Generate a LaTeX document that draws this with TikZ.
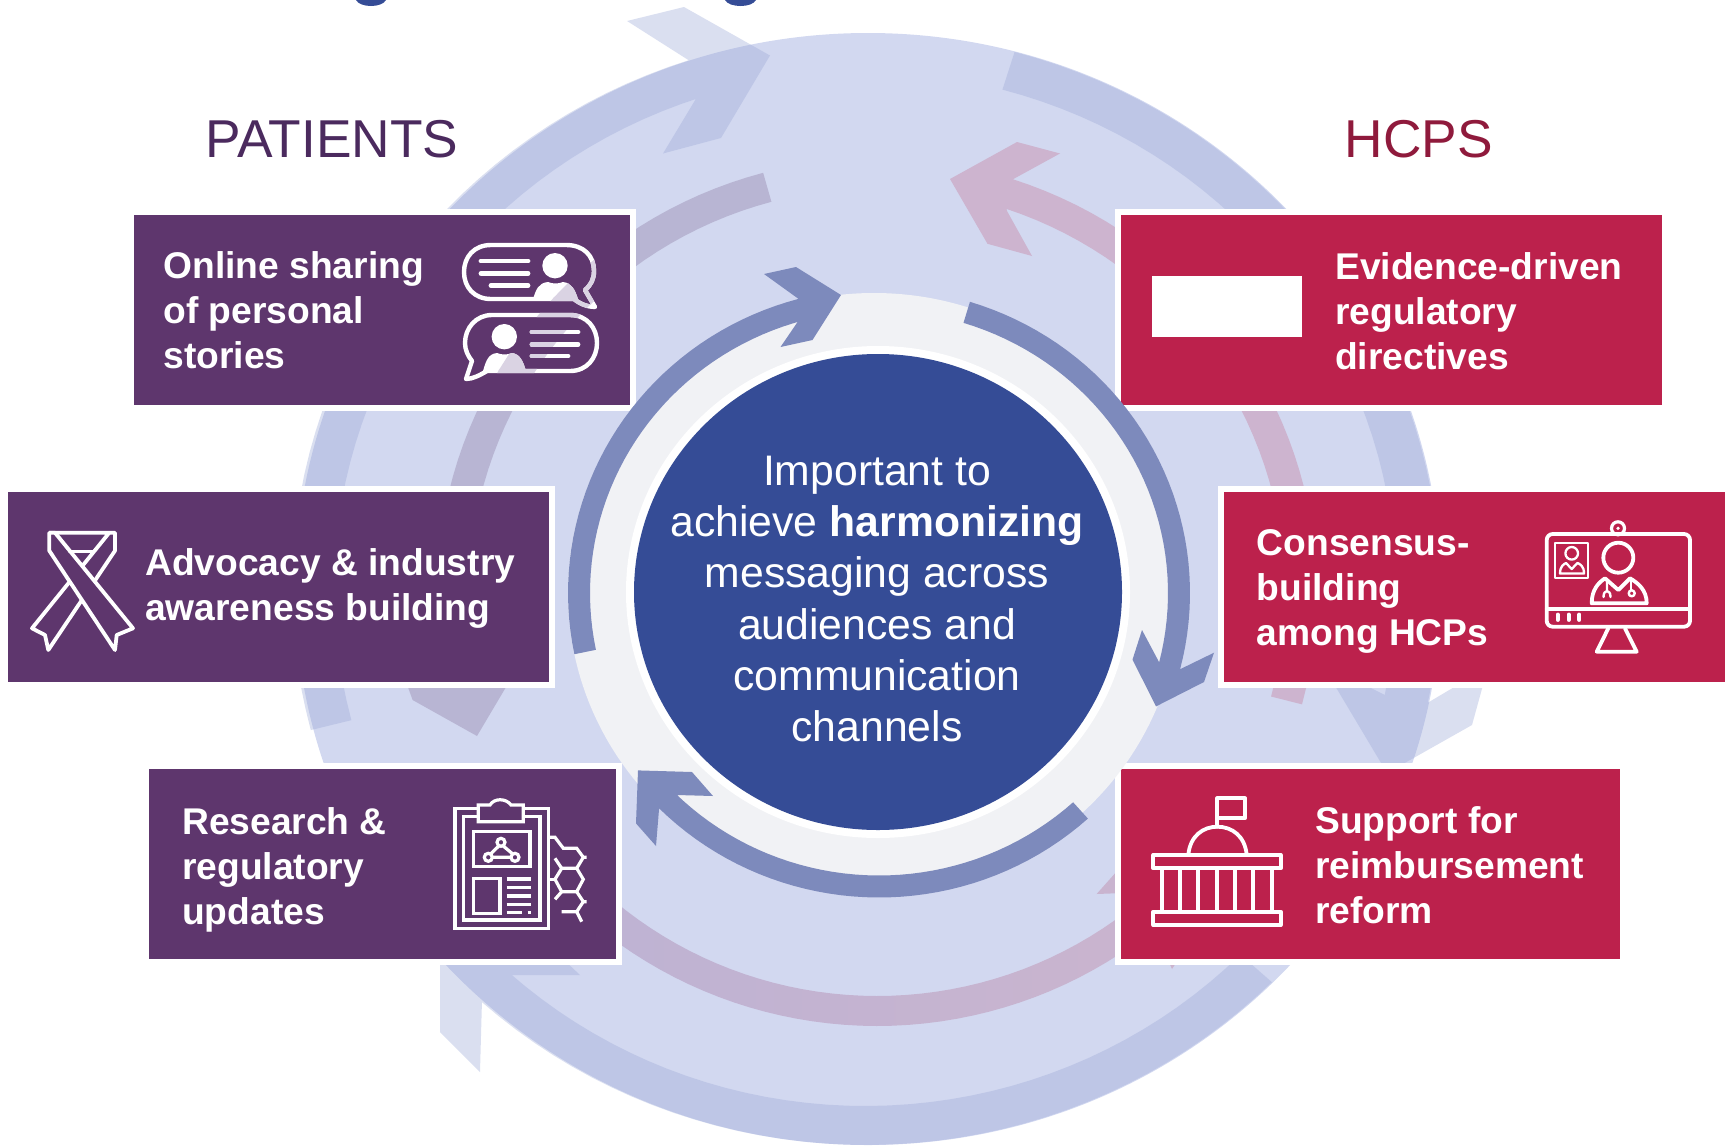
\documentclass[tikz,border=0pt]{standalone}
\usepackage{fontspec}
\setmainfont{Liberation Sans}
\definecolor{circ}{HTML}{D2D8F0}
\definecolor{bandc}{HTML}{9EABD8}
\definecolor{purbox}{HTML}{5E366D}
\definecolor{redbox}{HTML}{BC214C}
\definecolor{discb}{HTML}{354C96}
\definecolor{inarrow}{HTML}{7D8ABC}
\definecolor{anul}{HTML}{F1F2F5}
\definecolor{midpur}{HTML}{B8B5D3}
\definecolor{midpink}{HTML}{CDB4CF}
\definecolor{midpurb}{HTML}{BEB3D3}
\definecolor{midpinkb}{HTML}{CBB4CE}
\definecolor{headp}{HTML}{4B2A5E}
\definecolor{headr}{HTML}{8F1A3C}
\definecolor{ghost}{HTML}{DAD3E3}
\newcommand\ringarc[6]{plot[domain=#5:#6,samples=40,variable=\t]({#1+#3*cos(\t)},{#2-#4*sin(\t)})}
\newcommand\ringto[6]{-- plot[domain=#5:#6,samples=40,variable=\t]({#1+#3*cos(\t)},{#2-#4*sin(\t)})}
\newcommand\OO[2]{\ringarc{866}{589}{574}{556}{#1}{#2}}
\newcommand\OI[2]{\ringto{865}{589}{531}{517}{#1}{#2}}
\newcommand\MO[2]{\ringarc{877}{592}{440}{434}{#1}{#2}}
\newcommand\MI[2]{\ringto{877}{592}{408}{404}{#1}{#2}}
\newcommand\IO[2]{\ringarc{879}{593}{311}{304.5}{#1}{#2}}
\newcommand\II[2]{\ringto{879}{593}{289}{282.5}{#1}{#2}}
\newcommand\chaticon[1]{%
 \draw[#1,line width=4.4,line join=round,line cap=round] (491,245) -- (566,245) .. controls (584,245) and (594,256) .. (594,271) .. controls (594,279) and (591,285) .. (585,290) -- (595,307) .. controls (588,307) and (580,304) .. (574,299) -- (491,299) .. controls (474,299) and (464,287) .. (464,272) .. controls (464,257) and (474,245) .. (491,245) -- cycle;
 \draw[#1,line width=4.4,line join=round,line cap=round] (492,315) -- (570,315) .. controls (587,315) and (597,328) .. (597,343) .. controls (597,358) and (587,371) .. (570,371) -- (487,371) .. controls (480,375) and (473,379) .. (466,379) -- (472,361) .. controls (468,356) and (465,350) .. (465,343) .. controls (465,328) and (476,315) .. (492,315) -- cycle;
 \draw[#1,line width=4.8,line cap=round] (481,261) -- (528,261) (481,273.3) -- (528,273.3) (491,285.7) -- (528,285.7);
 \draw[#1,line width=4.8,line cap=round] (532,332) -- (578,332) (532,344.3) -- (578,344.3) (532,356) -- (568,356);
 \fill[#1] (555,265.7) circle [radius=12.7];
 \fill[#1] (533,299) .. controls (536,290) and (538,283) .. (548,282) .. controls (553,284) and (558,284) .. (563,282) .. controls (572,283) and (575,290) .. (578,299) -- cycle;
 \fill[#1] (504.3,336.7) circle [radius=12.7];
 \fill[#1] (483,371) .. controls (486,361) and (488,354) .. (497,353) .. controls (502,355) and (507,355) .. (512,353) .. controls (520,354) and (523,361) .. (526,371) -- cycle;
}
\tikzset{
  outerarrow/.style={fill=bandc,fill opacity=.38},
  innerarrow/.style={fill=inarrow},
  card/.style={rectangle,draw=white,line width=6,inner sep=0,outer sep=0,anchor=north west},
  cardtext/.style={text=white,anchor=west,align=left,inner sep=0,font=\fontsize{37.2}{45}\selectfont\bfseries},
  heading/.style={anchor=base,inner sep=0,font=\fontsize{53.3}{60}\selectfont},
  ico/.style={draw=white,line join=round,line cap=round,line width=3.6},
}
\begin{document}
\begin{tikzpicture}[x=1pt,y=-1pt]
\useasboundingbox (0,0) rectangle (1729,1146);
\clip (0,0) rectangle (1729,1146);
% title remnants
\fill[discb] (356,0) .. controls (360,8) and (382,8) .. (386,0) -- cycle;
\fill[discb] (725,0) .. controls (729,8) and (752,8) .. (756,0) -- cycle;
% big disc
\fill[circ] (868,589) ellipse [x radius=573,y radius=556];
% outer arrows
\fill[outerarrow] \OO{194.7}{108} -- (627,21) -- (684,7) -- (770,55.5) -- (721,138) -- (663,153.5) -- (697,97) \OI{108}{194.7} -- cycle;
\fill[outerarrow] \OO{75}{-11.8} -- (1488,667) -- (1472,725) -- (1387,773) -- (1322,664) -- (1385,695) \OI{-11.8}{75} -- cycle;
\fill[outerarrow] \OO{-45}{-132} -- (480,1072) -- (440,1032) -- (440,843) -- (580,975) -- (512,975) \OI{-132}{-45} -- cycle;
% middle arrows
\fill[midpur] \MO{105}{191} -- (400,665) -- (412.6,700) -- (477,736) -- (525,655) \MI{191}{105} -- cycle;
\fill[midpink] \MO{-15}{72} -- (1060,153.5) -- (1017,142) -- (950,179) -- (987.5,243.8) -- (1032,256) -- (1007,211) \MI{71.5}{-15} -- cycle;
\shade[left color=midpurb,right color=midpinkb] \MO{-130}{-48} -- (1168,960) -- (1172,969) -- (1178,960) -- (1192,787) -- (1096.6,894) -- (1150,892) \MI{-48}{-130} -- cycle;
% cards
\node[card,fill=purbox,minimum width=502,minimum height=196] (c1) at (130.5,212) {};
\node[card,fill=purbox,minimum width=547,minimum height=196] (c2) at (5,489) {};
\node[card,fill=purbox,minimum width=473,minimum height=196] (c3) at (146,766) {};
\node[card,fill=redbox,minimum width=547,minimum height=196] (c4) at (1117.5,212) {};
\node[card,fill=redbox,minimum width=507,minimum height=196] (c5) at (1220.6,489) {};
\node[card,fill=redbox,minimum width=505,minimum height=196] (c6) at (1117.5,766) {};
\node[heading,text=headp] (hp) at (332,157.5) {PATIENTS};
\node[heading,text=headr] (hh) at (1419,157.5) {HCPS};
\node[cardtext] (t1) at (163.3,310) {Online sharing\\of personal\\stories};
\node[cardtext] (t2) at (145,588.2) {Advocacy \& industry\\awareness building};
\node[cardtext] (t3) at (182,869.5) {Research \&\\regulatory\\updates};
\node[cardtext] (t4) at (1335,311) {Evidence-driven\\regulatory\\directives};
\node[cardtext] (t5) at (1256.6,591) {Consensus-\\building\\among HCPs};
\node[cardtext] (t6) at (1315,865) {Support for\\reimbursement\\reform};
\fill[white] (1152,276) rectangle (1302,336.6);
% chat icon
\chaticon{white}
\begin{scope}
\clip \MO{105}{191} \MI{191}{105} -- cycle;
\chaticon{ghost}
\end{scope}
% ribbon icon
\draw[ico,line width=3.8,line cap=butt,line join=round] (109,533) -- (32,628.3) -- (45,635) -- (48.3,650) -- (115,550.7) -- (115,532.7) -- (49.3,532.7);
\draw[ico,line width=3.8,line cap=butt,line join=round,fill=purbox] (49.3,532.7) -- (55,532.7) -- (133,628.3) -- (116.7,635) -- (115,650) -- (49.3,550.7) -- cycle;
\draw[ico,line width=3.8] (70,551.5) -- (93,551.5);
% clipboard icon
\begin{scope}[ico,line width=3.2,line cap=butt,line join=miter]
\draw (478.3,808.3) -- (455,808.3) -- (455,928.3) -- (548.3,928.3) -- (548.3,808.3) -- (523.3,808.3);
\draw (478.3,816.7) -- (463.3,816.7) -- (463.3,920) -- (540,920) -- (540,816.7) -- (523.3,816.7);
\draw (478.3,821.7) -- (478.3,805) -- (490,805) .. controls (494,798) and (506,798) .. (511,805) -- (523.3,805) -- (523.3,821.7) -- cycle;
\draw (473.3,831.7) rectangle (530,866.7);
\draw (473.3,878.3) rectangle (500,913.3);
\draw (506.7,879) -- (530.7,879) (506.7,887.7) -- (530.7,887.7) (506.7,896) -- (530.7,896) (506.7,904.3) -- (530.7,904.3) (506.7,912.7) -- (521.7,912.7) (527.5,912.7) -- (531,912.7);
\draw (501,842.3) circle [radius=4] (488.3,857.3) circle [radius=4] (515,857.3) circle [radius=4];
\draw (499,845.8) -- (490.5,854) (503,845.8) -- (512.8,854) (492.3,857.3) -- (511,857.3);
\draw (548.3,837.3) -- (555,837.3) -- (563.3,848.3) -- (576.7,848.3) -- (583.3,857.3) -- (586.7,857.3);
\draw (583.3,857.3) -- (576.7,868.3) -- (561.7,868.3) -- (555,858.3);
\draw (561.7,868.3) -- (555,879.3) -- (561.7,891.7) -- (576.7,891.7) -- (583.3,879.3) -- (576.7,868.3);
\draw (548.3,879.3) -- (555,879.3);
\draw (561.7,891.7) -- (555,899.3);
\draw (576.7,891.7) -- (583.3,901.7) -- (586.7,901.7);
\draw (583.3,901.7) -- (576.7,911.7) -- (561.7,911.7);
\draw (576.7,911.7) -- (581.7,921.7);
\end{scope}
% doctor monitor icon
\begin{scope}[ico,line width=3.8]
\draw[rounded corners=6] (1546.7,534) rectangle (1690,626.7);
\draw (1546.7,609.3) -- (1690,609.3);
\draw (1557.7,614.5) -- (1557.7,620) (1568.7,614.5) -- (1568.7,620) (1579.3,614.5) -- (1579.3,620);
\draw (1608.3,628.3) -- (1596.7,651.7) -- (1636.7,651.7) -- (1625,628.3);
\draw[line width=3.2] (1618,528.3) circle [radius=6.5];
\fill[white] (1618,528.3) circle [radius=1.8];
\draw[line width=2] (1555,543.3) rectangle (1588.3,577.7);
\draw[line width=2.3] (1571.7,553.3) circle [radius=6.3];
\draw[line width=2.3] (1560,573.5) .. controls (1560,566) and (1564,564) .. (1566,563) -- (1571.7,569) -- (1577.4,563) .. controls (1580,564) and (1584,566) .. (1584,573.5) -- cycle;
\draw (1618.3,557.7) circle [radius=15];
\draw (1591.7,603.3) .. controls (1591.7,590) and (1598,583) .. (1605,578.3) -- (1618.3,590) -- (1630,578.3) .. controls (1638,583) and (1646.7,590) .. (1646.7,603.3) -- cycle;
\draw[line width=2.4] (1607,581) -- (1607,590) (1603.5,597) .. controls (1603.5,589) and (1610.5,589) .. (1610.5,597);
\draw[line width=2.4] (1631,581) -- (1631,590);
\draw[line width=2.4] (1631.7,593.3) circle [radius=3];
\end{scope}
% capitol icon
\begin{scope}[ico,line width=3.8]
\draw (1153.3,855) rectangle (1280.7,868.3);
\draw (1153.3,911.7) rectangle (1280.7,925);
\draw (1161.7,868.3) -- (1161.7,911.7) (1180,868.3) -- (1180,911.7) (1198.3,868.3) -- (1198.3,911.7) (1216.7,868.3) -- (1216.7,911.7) (1235,868.3) -- (1235,911.7) (1253.3,868.3) -- (1253.3,911.7) (1271.7,868.3) -- (1271.7,911.7);
\draw (1188.3,855) .. controls (1190,836) and (1203,826.7) .. (1217.3,826.7) .. controls (1232,826.7) and (1245,836) .. (1246.7,855);
\draw (1217.3,826.7) -- (1217.3,798.3) -- (1245,798.3) -- (1245,818.3) -- (1217.3,818.3);
\end{scope}
% inner ring and centre
\fill[anul] (874,593) ellipse [x radius=306,y radius=300];
\fill[white] (878,592) ellipse [x radius=252,y radius=246];
\fill[discb] (878,592) ellipse [x radius=244,y radius=238];
\fill[innerarrow] \IO{191.6}{105} -- (764,274) -- (796,267) -- (841,295) -- (812.5,340) -- (780.5,347) -- (801,317) \II{105}{191.6} -- cycle;
\fill[innerarrow] \IO{73}{-14.5} -- (1214,652.7) -- (1204,682) -- (1156,706.4) -- (1132.5,659.6) -- (1142,630) -- (1159,662) \II{-14.5}{73} -- cycle;
\fill[innerarrow] \IO{-47.8}{-135} -- (656,846) -- (636,823.4) -- (638,770.4) -- (692,772) -- (713,796) -- (677,795) \II{-135}{-47.8} -- cycle;
\node[text=white,align=center,inner sep=0,font=\fontsize{42.7}{51.2}\selectfont] (ctr) at (877,599) {Important to\\achieve \textbf{harmonizing}\\messaging across\\audiences and\\communication\\channels};
\end{tikzpicture}
\end{document}
